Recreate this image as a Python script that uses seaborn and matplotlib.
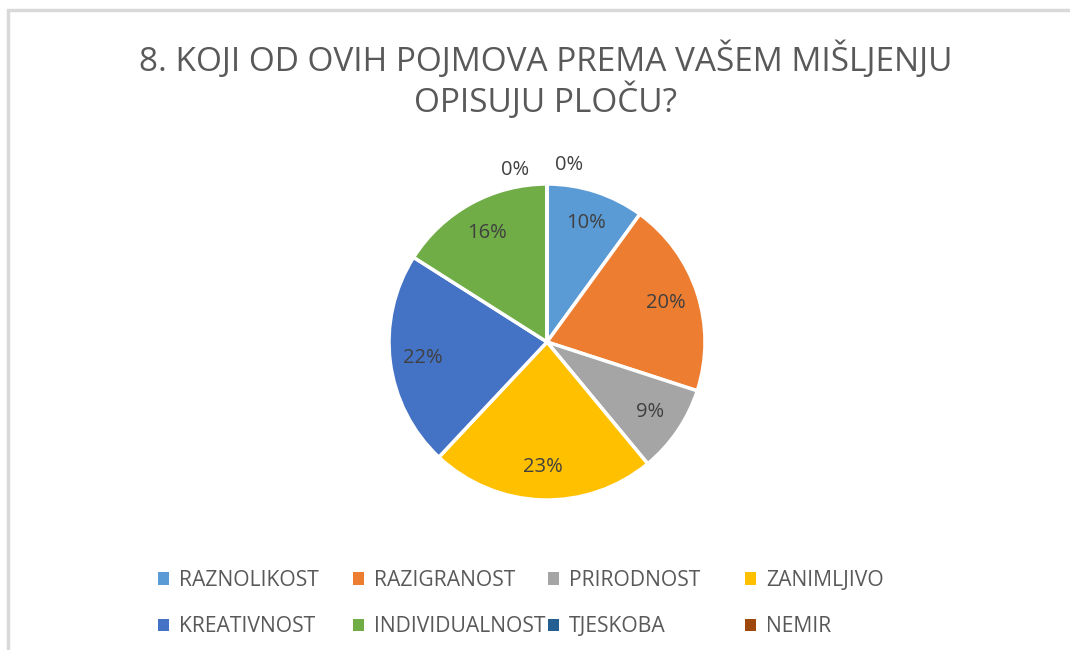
import matplotlib
matplotlib.use("Agg")
import matplotlib.pyplot as plt
import seaborn as sns
from matplotlib.patches import Rectangle
import numpy as np

categories = ["RAZNOLIKOST", "RAZIGRANOST", "PRIRODNOST", "ZANIMLJIVO",
              "KREATIVNOST", "INDIVIDUALNOST", "TJESKOBA", "NEMIR"]
values = [10, 20, 9, 23, 22, 16, 0, 0]
colors = ["#5B9BD5", "#ED7D31", "#A5A5A5", "#FFC000",
          "#4472C4", "#70AD47", "#255E91", "#9E480E"]
title_lines = ["8. KOJI OD OVIH POJMOVA PREMA VAŠEM MIŠLJENJU", "OPISUJU PLOČU?"]

sns.set_theme(style="white")
plt.rcParams["font.family"] = ["Open Sans", "DejaVu Sans"]

W, H = 1070, 650
fig = plt.figure(figsize=(W / 100, H / 100), dpi=100)
fig.patch.set_facecolor("white")

# frame
fig.add_artist(Rectangle((7.5 / W, -0.01), 1.1, (H - 9.5) / H + 0.01, transform=fig.transFigure,
                         fill=False, edgecolor="#D9D9D9", linewidth=2.5))

cx, cy, r = 547, 342, 158
ax = fig.add_axes([(cx - r) / W, (H - cy - r) / H, 2 * r / W, 2 * r / H])
wedges, _ = ax.pie(values, colors=colors, startangle=90, counterclock=False,
                   wedgeprops=dict(edgecolor="white", linewidth=2.5))
ax.set_xlim(-1, 1)
ax.set_ylim(-1, 1)
ax.set_aspect("equal")

zero_offsets = [(0.14, 1.12), (-0.2, 1.09)]
zi = 0
for w, v in zip(wedges, values):
    if v > 0:
        ang = np.deg2rad((w.theta1 + w.theta2) / 2)
        x, y = 0.79 * np.cos(ang), 0.79 * np.sin(ang)
    else:
        x, y = zero_offsets[zi]
        zi += 1
    ax.text(x, y, f"{v}%", ha="center", va="center", fontsize=14.5, color="#404040")

fig.text(0.51, 1 - 60 / H, title_lines[0],
         ha="center", va="center", fontsize=24, color="#595959")
fig.text(0.51, 1 - 101 / H, title_lines[1],
         ha="center", va="center", fontsize=24, color="#595959")

handles = [Rectangle((0, 0), 1, 1, facecolor=c, edgecolor="none") for c in colors]
col_x = [158, 353, 548, 745]
for j in range(4):
    fig.legend(handles=[handles[j], handles[j + 4]],
               labels=[categories[j], categories[j + 4]],
               loc="upper left", bbox_to_anchor=(col_x[j] / W, 1 - 570 / H),
               frameon=False, fontsize=15.2, labelcolor="#595959",
               handlelength=0.5, handleheight=0.5, handletextpad=0.5,
               labelspacing=1.2, borderpad=0, borderaxespad=0)

fig.savefig("out.png", dpi=100)
